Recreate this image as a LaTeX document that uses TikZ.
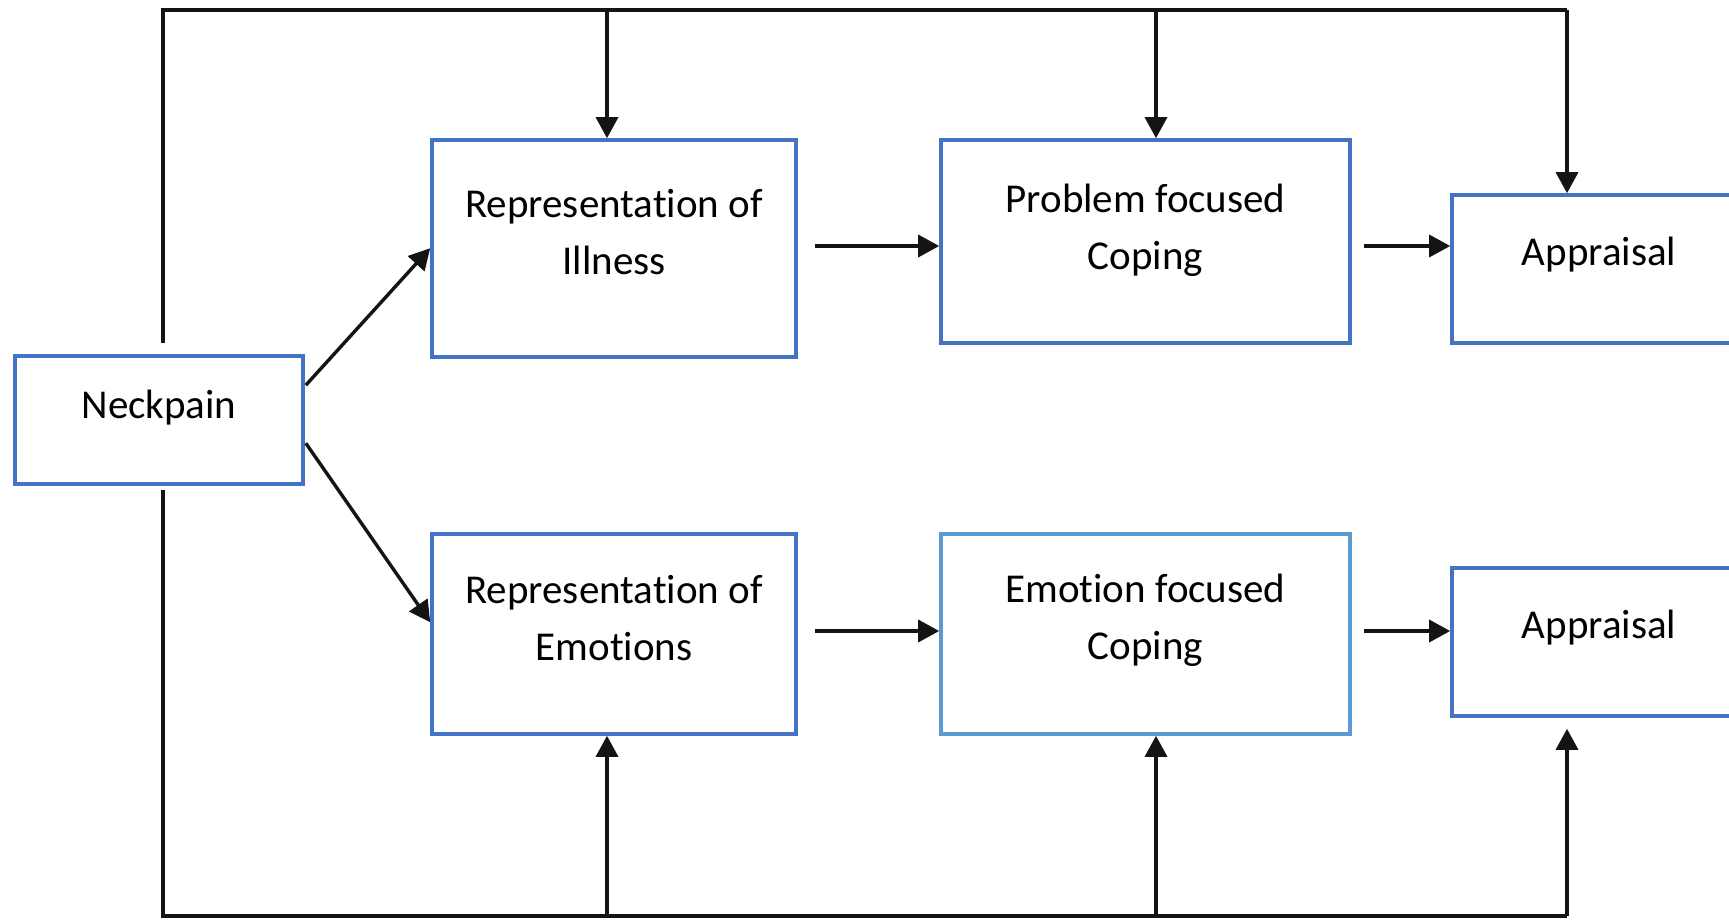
\documentclass[tikz,border=0pt]{standalone}
\usepackage{fontspec}
\setmainfont[Ligatures={NoCommon}]{Carlito}
\usetikzlibrary{arrows.meta,calc}
\definecolor{boxblue}{HTML}{4472C4}
\definecolor{lightblue}{HTML}{5B9BD5}
\definecolor{ink}{HTML}{141414}
\tikzset{
  box/.style={draw=boxblue, line width=1.8pt, fill=white, inner sep=0pt, rectangle},
  lbl/.style={font=\fontsize{20.5}{28.5}\selectfont, align=center, text=black, inner sep=0pt},
  conn/.style={draw=ink, line width=1.7pt},
  arr/.style={conn, -{Triangle[length=10.5pt,width=11pt]}},
}
\begin{document}
\begin{tikzpicture}[x=0.5pt,y=-0.5pt]
\useasboundingbox (0,0) rectangle (1729,920);
\clip (0,0) rectangle (1729,920);
\fill[white] (0,0) rectangle (1729,920);

% boxes
\node[box, minimum width=144pt, minimum height=64pt,
  label={[lbl,yshift=6pt]center:Neckpain}] (np) at (159,420) {};
\node[box, minimum width=182pt, minimum height=108.5pt,
  label={[lbl,yshift=8pt]center:{Representation of\\Illness}}] (ri) at (614,248.5) {};
\node[box, minimum width=204.5pt, minimum height=101.5pt,
  label={[lbl,yshift=5.5pt]center:{Problem focused\\Coping}}] (pf) at (1145.5,241.5) {};
\node[box, minimum width=147pt, minimum height=74pt,
  label={[lbl,yshift=7pt]center:Appraisal}] (ap1) at (1599,269) {};
\node[box, minimum width=182pt, minimum height=100pt,
  label={[lbl,yshift=8pt]center:{Representation of\\Emotions}}] (re) at (614,634) {};
\node[box, draw=lightblue, minimum width=204.5pt, minimum height=100pt,
  label={[lbl,yshift=7pt]center:{Emotion focused\\Coping}}] (ef) at (1145.5,634) {};
\node[box, minimum width=147pt, minimum height=74pt,
  label={[lbl,yshift=7pt]center:Appraisal}] (ap2) at (1599,642) {};

% bus coordinates
\coordinate (npT) at (163,343);
\coordinate (npB) at (163,490);
\coordinate (tl) at (163,10);
\coordinate (tr) at (1567,10);
\coordinate (t1) at (607,10);
\coordinate (t2) at (1156,10);
\coordinate (bl) at (163,916);
\coordinate (br) at (1567,916);
\coordinate (b1) at (607,916);
\coordinate (b2) at (1156,916);
\coordinate (h1) at (0,246);
\coordinate (h2) at (0,631);

% top bus
\draw[conn] (npT) -- (tl) -- (tr);
\draw[arr] (t1) -- (t1 |- ri.north);
\draw[arr] (t2) -- (t2 |- pf.north);
\draw[arr] (tr) -- (tr |- ap1.north);

% bottom bus
\draw[conn] (npB) -- (bl) -- (br);
\draw[arr] (b1) -- (b1 |- re.south);
\draw[arr] (b2) -- (b2 |- ef.south);
\draw[arr] (br) -- ($(br |- ap2.south)+(0,11)$);

% diagonals from Neckpain
\draw[arr] ($(np.north east)+(1,31)$) -- ($(ri.north west)+(0,110)$);
\draw[arr] ($(np.north east)+(1,89)$) -- ($(re.north west)+(0,90)$);

% horizontal arrows
\draw[arr] ($(ri.east |- h1)+(17,0)$) -- (pf.west |- h1);
\draw[arr] ($(pf.east |- h1)+(12,0)$) -- (ap1.west |- h1);
\draw[arr] ($(re.east |- h2)+(17,0)$) -- (ef.west |- h2);
\draw[arr] ($(ef.east |- h2)+(12,0)$) -- (ap2.west |- h2);
\end{tikzpicture}
\end{document}
